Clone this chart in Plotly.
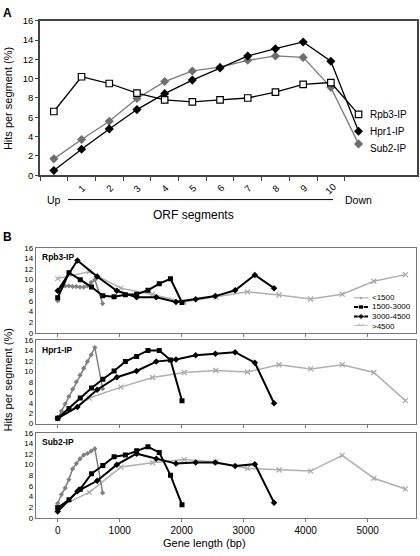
import plotly.graph_objects as go

# ---------------- Panel A data ----------------
seg_labels = ["Up", "1", "2", "3", "4", "5", "6", "7", "8", "9", "10", "Down"]
seg_pos = list(range(len(seg_labels)))
rpb3_A = [6.6, 10.2, 9.5, 8.5, 7.8, 7.6, 7.8, 8.0, 8.6, 9.4, 9.6, 6.3]
hpr1_A = [0.5, 2.7, 4.8, 6.8, 8.45, 9.85, 11.1, 12.35, 13.1, 13.8, 11.8, 4.55]
sub2_A = [1.7, 3.7, 5.6, 7.95, 9.7, 10.8, 11.2, 11.9, 12.35, 12.2, 9.1, 3.25]
series_A = ["Rpb3-IP", "Hpr1-IP", "Sub2-IP"]

# ---------------- Panel B data ----------------
bins = ["<1500", "1500-3000", "3000-4500", ">4500"]
bp_lt1500 = [0, 60, 120, 180, 240, 300, 360, 420, 480, 540, 600, 725]
bp_1500_3000 = [0, 182, 364, 546, 728, 910, 1092, 1274, 1456, 1638, 1820, 2005]
bp_3000_4500 = [0, 318, 636, 954, 1272, 1590, 1908, 2226, 2544, 2862, 3180, 3490]
bp_gt4500 = [0, 510, 1020, 1530, 2040, 2550, 3060, 3570, 4080, 4590, 5100, 5610]

rpb3_lt1500 = [6.0, 8.6, 8.8, 8.8, 8.7, 8.7, 8.6, 8.6, 8.8, 9.5, 10.0, 5.5]
rpb3_1500_3000 = [6.6, 11.3, 10.0, 8.6, 6.95, 6.8, 7.15, 7.25, 8.0, 9.25, 10.15, 5.7]
rpb3_3000_4500 = [7.9, 13.6, 10.6, 7.9, 6.7, 6.7, 5.8, 6.3, 6.9, 8.0, 10.9, 8.4]
rpb3_gt4500 = [10.2, 11.5, 8.4, 7.2, 5.8, 6.7, 7.7, 7.1, 6.35, 7.25, 9.7, 10.95]

hpr1_lt1500 = [1.0, 2.4, 3.8, 5.2, 6.6, 8.0, 9.3, 10.6, 11.9, 13.2, 14.6, 6.7]
hpr1_1500_3000 = [1.0, 2.9, 4.9, 6.85, 8.5, 10.1, 11.9, 12.9, 14.05, 14.05, 12.2, 4.4]
hpr1_3000_4500 = [1.0, 3.2, 6.5, 8.9, 10.1, 11.9, 12.3, 13.1, 13.4, 13.7, 11.7, 3.9]
hpr1_gt4500 = [1.0, 4.9, 7.0, 8.85, 9.8, 10.2, 9.9, 11.3, 10.5, 11.3, 9.8, 4.4]

sub2_lt1500 = [2.75, 4.4, 5.6, 7.2, 9.2, 10.2, 11.1, 11.8, 12.1, 12.55, 13.0, 4.7]
sub2_1500_3000 = [1.9, 3.4, 5.4, 8.3, 9.85, 11.5, 11.8, 12.6, 13.35, 12.3, 8.0, 2.5]
sub2_3000_4500 = [1.2, 5.0, 6.98, 10.0, 12.06, 11.1, 10.2, 10.4, 10.4, 9.74, 10.1, 2.87]
sub2_gt4500 = [2.0, 4.8, 9.55, 10.35, 10.95, 10.5, 9.3, 9.0, 8.8, 11.75, 7.46, 5.45]

x_ticks_B = [0, 1000, 2000, 3000, 4000, 5000]
y_ticks = list(range(0, 17, 2))

W, H = 420, 556
FONT = "Liberation Sans, Arial, sans-serif"


def px_x(p):
    return p / W


def px_y(p):
    return 1 - p / H


fig = go.Figure()

# ---------------- Panel A traces ----------------
styleA = {
    "Rpb3-IP": dict(line=dict(color="#000000", width=1.3),
                    marker=dict(symbol="square", size=6.5, color="white",
                                line=dict(color="#000000", width=1.2))),
    "Hpr1-IP": dict(line=dict(color="#000000", width=1.3),
                    marker=dict(symbol="diamond", size=7, color="#000000")),
    "Sub2-IP": dict(line=dict(color="#7a7a7a", width=1.3),
                    marker=dict(symbol="diamond", size=7, color="#6e6e6e")),
}
dataA = {"Rpb3-IP": rpb3_A, "Hpr1-IP": hpr1_A, "Sub2-IP": sub2_A}
for name in ["Sub2-IP", "Hpr1-IP", "Rpb3-IP"]:
    fig.add_trace(go.Scatter(x=seg_pos, y=dataA[name], mode="lines+markers",
                             name=name, showlegend=False,
                             xaxis="x", yaxis="y", **styleA[name]))

# ---------------- Panel B traces ----------------
styleB = {
    "<1500": dict(line=dict(color="#808080", width=1.5),
                  marker=dict(symbol="diamond", size=4, color="#808080")),
    "1500-3000": dict(line=dict(color="#000000", width=2),
                      marker=dict(symbol="square", size=5, color="#000000")),
    "3000-4500": dict(line=dict(color="#000000", width=2),
                      marker=dict(symbol="diamond", size=5, color="#000000")),
    ">4500": dict(line=dict(color="#b0b0b0", width=1.5),
                  marker=dict(symbol="x-thin", size=5,
                              line=dict(color="#a8a8a8", width=1.2))),
}
xs_B = {"<1500": bp_lt1500, "1500-3000": bp_1500_3000,
        "3000-4500": bp_3000_4500, ">4500": bp_gt4500}
panelsB = [
    ("Rpb3-IP", "x2", "y2", {"<1500": rpb3_lt1500, "1500-3000": rpb3_1500_3000,
                             "3000-4500": rpb3_3000_4500, ">4500": rpb3_gt4500}),
    ("Hpr1-IP", "x3", "y3", {"<1500": hpr1_lt1500, "1500-3000": hpr1_1500_3000,
                             "3000-4500": hpr1_3000_4500, ">4500": hpr1_gt4500}),
    ("Sub2-IP", "x4", "y4", {"<1500": sub2_lt1500, "1500-3000": sub2_1500_3000,
                             "3000-4500": sub2_3000_4500, ">4500": sub2_gt4500}),
]
for pname, xa, ya, d in panelsB:
    for b in [">4500", "<1500", "3000-4500", "1500-3000"]:
        fig.add_trace(go.Scatter(x=xs_B[b], y=d[b], mode="lines+markers",
                                 name=b, showlegend=False, xaxis=xa, yaxis=ya,
                                 **styleB[b]))

# legend samples (hidden overlay axis)
for i, b in enumerate(bins):
    fig.add_trace(go.Scatter(x=[0, 0.5, 1], y=[i, i, i], mode="lines+markers",
                             showlegend=False, xaxis="x5", yaxis="y5",
                             line=styleB[b]["line"],
                             marker=dict(styleB[b]["marker"], size=[0, styleB[b]["marker"]["size"], 0]),
                             hoverinfo="skip"))

annotations = []
shapes = []

# Panel A labels
annotations.append(dict(text="<b>A</b>", x=px_x(1), y=px_y(7), xref="paper", yref="paper",
                        xanchor="left", yanchor="middle", showarrow=False,
                        font=dict(size=12, family=FONT, color="black")))
annotations.append(dict(text="Hits per segment (%)", x=px_x(8), y=px_y(95), xref="paper",
                        yref="paper", textangle=-90, xanchor="center", yanchor="middle",
                        showarrow=False, font=dict(size=11, family=FONT, color="black")))
for i, lab in enumerate(seg_labels):
    if lab in ("Up", "Down"):
        annotations.append(dict(text=lab, x=i, y=px_y(197.5), xref="x", yref="paper",
                                xanchor="center", yanchor="middle", showarrow=False,
                                font=dict(size=10.5, family=FONT, color="black")))
    else:
        annotations.append(dict(text=lab, x=i, y=px_y(186), xref="x", yref="paper",
                                xanchor="center", yanchor="middle", showarrow=False,
                                textangle=-45,
                                font=dict(size=9.5, family=FONT, color="black")))
annotations.append(dict(text="ORF segments", x=px_x(193), y=px_y(213), xref="paper",
                        yref="paper", xanchor="center", yanchor="middle", showarrow=False,
                        font=dict(size=12, family=FONT, color="black")))
shapes.append(dict(type="line", xref="paper", yref="paper", x0=px_x(68), x1=px_x(333),
                   y0=px_y(197.5), y1=px_y(197.5), line=dict(color="black", width=1)))
shiftA = {"Rpb3-IP": 0, "Hpr1-IP": 0, "Sub2-IP": -5}
for name in series_A:
    annotations.append(dict(text=name, x=seg_pos[-1], y=dataA[name][-1], xref="x", yref="y",
                            xanchor="left", yanchor="middle", xshift=9, yshift=shiftA[name],
                            showarrow=False, font=dict(size=10, family=FONT, color="black")))

# Panel B labels
annotations.append(dict(text="<b>B</b>", x=px_x(1), y=px_y(236), xref="paper", yref="paper",
                        xanchor="left", yanchor="middle", showarrow=False,
                        font=dict(size=12, family=FONT, color="black")))
annotations.append(dict(text="Hits per segment (%)", x=px_x(8), y=px_y(382), xref="paper",
                        yref="paper", textangle=-90, xanchor="center", yanchor="middle",
                        showarrow=False, font=dict(size=11, family=FONT, color="black")))
annotations.append(dict(text="Gene length (bp)", x=px_x(204), y=px_y(548), xref="paper",
                        yref="paper", xanchor="center", yanchor="middle", showarrow=False,
                        font=dict(size=11, family=FONT, color="black")))
for pname, xa, ya, d in panelsB:
    annotations.append(dict(text="<b>" + pname + "</b>", x=0.01, y=0.97,
                            xref=xa + " domain", yref=ya + " domain",
                            xanchor="left", yanchor="top", showarrow=False,
                            font=dict(size=8.5, family=FONT, color="black")))
for i, b in enumerate(bins):
    annotations.append(dict(text=b, x=1, y=i, xref="x5", yref="y5", xanchor="left",
                            yanchor="middle", xshift=2, showarrow=False,
                            font=dict(size=8, family=FONT, color="black")))

axis_common = dict(showgrid=False, zeroline=False, showline=True, mirror=True)

layout = dict(
    width=W, height=H, margin=dict(l=0, r=0, t=0, b=0),
    paper_bgcolor="white", plot_bgcolor="white",
    font=dict(family=FONT, color="black"),
    showlegend=False,
    annotations=annotations, shapes=shapes,
    xaxis=dict(axis_common, domain=[px_x(40), px_x(417)], range=[-0.5, 13.11],
               tickvals=[i - 0.5 for i in range(12)], ticktext=[""] * 12,
               ticks="outside", ticklen=4, tickcolor="#444", linecolor="#444", linewidth=1.5,
               anchor="y"),
    yaxis=dict(axis_common, domain=[px_y(172.7), px_y(15)], range=[0, 16],
               tickvals=y_ticks, ticks="outside", ticklen=3, tickcolor="#444",
               linecolor="#444", linewidth=1.5, tickfont=dict(size=9.5), anchor="x"),
)
domsB = {"2": (246.7, 333.3), "3": (341, 426), "4": (435.3, 522.3)}
for k, (top, bot) in domsB.items():
    layout["xaxis" + k] = dict(axis_common, domain=[px_x(36), px_x(416)], range=[-350, 5780],
                               tickvals=x_ticks_B, ticks="outside", ticklen=3,
                               tickcolor="#777", linecolor="#777", linewidth=1.3,
                               showticklabels=(k == "4"), tickfont=dict(size=10),
                               anchor="y" + k)
    layout["yaxis" + k] = dict(axis_common, domain=[px_y(bot), px_y(top)], range=[0, 16],
                               tickvals=y_ticks, ticks="", tickcolor="#777",
                               linecolor="#777", linewidth=1.3, tickfont=dict(size=8),
                               anchor="x" + k)
layout["xaxis5"] = dict(domain=[px_x(354), px_x(368)], range=[0, 1], visible=False,
                        anchor="y5", fixedrange=True)
layout["yaxis5"] = dict(domain=[px_y(326.5), px_y(297.3)], range=[3, 0], visible=False,
                        anchor="x5", fixedrange=True)

fig.update_layout(**layout)
fig.write_html("out.html", config={"displayModeBar": False})

# remove the browser's default page margin so the figure sits at the page origin
with open("out.html", "r", encoding="utf-8") as f:
    html = f.read()
html = html.replace("<head>", "<head><style>html,body{margin:0;padding:0;overflow:hidden;}</style>", 1)
with open("out.html", "w", encoding="utf-8") as f:
    f.write(html)
